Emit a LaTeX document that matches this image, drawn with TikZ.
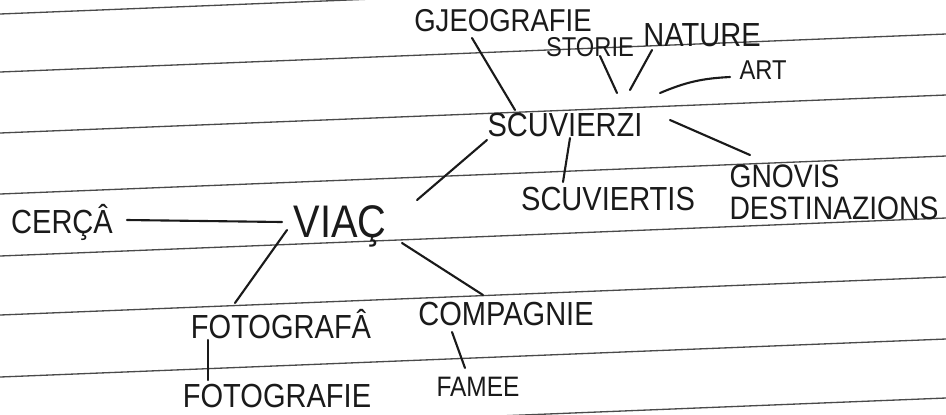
\documentclass[tikz,border=0pt]{standalone}
\usepackage{fontspec}
\newfontfamily\hand[FakeStretch=0.87]{Liberation Sans}
\usetikzlibrary{calc}
\definecolor{ink}{HTML}{1A1A1A}
\definecolor{rule}{HTML}{4A4A4A}
\tikzset{
  word/.style={font=\hand\fontsize{19}{16.5}\selectfont, inner sep=0pt, text=ink},
  smallword/.style={word, font=\hand\fontsize{15.5}{18}\selectfont},
  bigword/.style={word, font=\hand\fontsize{26}{30}\selectfont},
  link/.style={draw=ink, line width=1.2pt, line cap=round},
  ruled/.style={draw=rule, line width=0.75pt}
}
\begin{document}
\begin{tikzpicture}[x=0.02cm, y=-0.02cm]
\useasboundingbox (0,0) rectangle (946,414);
\fill[white] (0,0) rectangle (946,414);
% ruled paper
\begin{scope}
\clip (0,0) rectangle (946,414);
\foreach \l in {14,72,133,194,256,315,377,436}
  \draw[ruled] (0,\l) -- (946,\l-38);
\end{scope}
% nodes
\node[word, font=\hand\fontsize{18}{20}\selectfont] (geo) at (503,21) {GJEOGRAFIE};
\node[smallword] (stor) at (590,47) {STORIE};
\node[word] (nat) at (702,35) {NATURE};
\node[smallword] (art) at (763,70) {ART};
\node[word] (scuv) at (565,125) {SCUVIERZI};
\node[word] (scuvt) at (608,199) {SCUVIERTIS};
\node[word, font=\hand\fontsize{18.5}{18}\selectfont, align=left] (gnov) at (834,192) {GNOVIS\\DESTINAZIONS};
\node[word] (cersa) at (62,222) {CERÇÂ};
\node[bigword] (viac) at (340,226) {VIAÇ};
\node[word] (fotoa) at (281,324) {FOTOGRAFÂ};
\node[word] (comp) at (506,314) {COMPAGNIE};
\node[word] (fotoi) at (277,396) {FOTOGRAFIE};
\node[word, font=\hand\fontsize{16}{18}\selectfont] (famee) at (478,387) {FAMEE};
% connectors
\draw[link] ($(geo)+(-31,17)$) -- ($(scuv)+(-50,-15)$);
\draw[link] ($(stor)+(10,9)$) -- ($(scuv)+(52,-32)$);
\draw[link] ($(nat)+(-50,15)$) -- ($(scuv)+(65,-35)$);
\draw[link] ($(scuv)+(95,-32)$) to[bend left=10] ($(art)+(-33,7)$);
\draw[link] ($(scuv)+(105,-5)$) -- ($(gnov)+(-84,-37)$);
\draw[link] ($(scuv)+(5,13)$) -- ($(scuvt)+(-45,-17)$);
\draw[link] ($(scuv)+(-78,15)$) -- ($(viac)+(77,-26)$);
\draw[link] ($(cersa)+(65,-2)$) -- ($(viac)+(-58,-4)$);
\draw[link] ($(viac)+(-53,4)$) -- ($(fotoa)+(-46,-21)$);
\draw[link] ($(viac)+(62,17)$) -- ($(comp)+(-23,-19)$);
\draw[link] ($(fotoa)+(-73,16)$) -- ($(fotoi)+(-69,-16)$);
\draw[link] ($(comp)+(-54,18)$) -- ($(famee)+(-13,-19)$);
\end{tikzpicture}
\end{document}
